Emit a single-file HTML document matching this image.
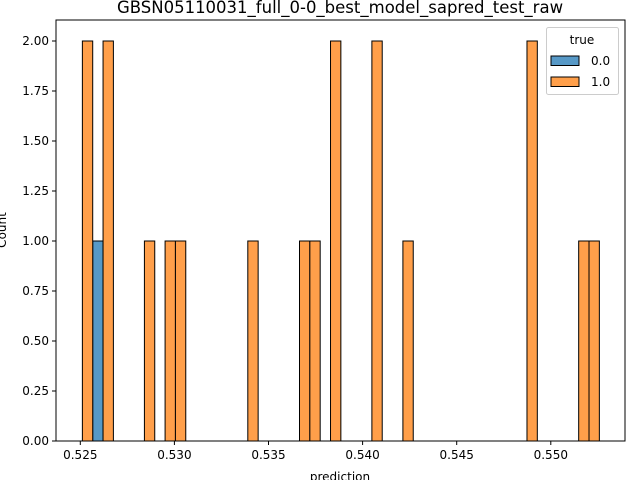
<!DOCTYPE html>
<html><head><meta charset="utf-8"><style>
body{margin:0;background:#fff;}
text{font-family:"DejaVu Sans","Liberation Sans",sans-serif;}
</style></head><body>
<svg id="chart" width="640" height="480" xmlns="http://www.w3.org/2000/svg">
<text x="340" y="13" font-size="16.5" text-anchor="middle">GBSN05110031_full_0-0_best_model_sapred_test_raw</text>
<g id="bars"></g>
<g id="axes"></g>
<text x="340" y="481" font-size="12" text-anchor="middle">prediction</text>
<text transform="translate(6,230) rotate(-90)" font-size="12" text-anchor="middle">Count</text>
<g>
<rect x="546.5" y="27.5" width="72" height="67" rx="2" fill="#fff" fill-opacity="0.8" stroke="#ccc"/>
<text x="582" y="44" font-size="12" text-anchor="middle">true</text>
<rect x="551" y="56" width="28" height="9.5" fill="#5799c7" stroke="#000" stroke-width="1"/>
<text x="591" y="65" font-size="12">0.0</text>
<rect x="551" y="77" width="28" height="9.5" fill="#ff9f4a" stroke="#000" stroke-width="1"/>
<text x="591" y="86" font-size="12">1.0</text>
</g>
</svg>
<script>
const binStart = 0.52511;
const binWidth = 0.0005494;
const orangeBins = [0,2,6,8,9,16,21,22,24,28,31,43,48,49];
const orangeCounts = [2,2,1,1,1,1,1,1,2,2,1,2,1,1];
const blueBins = [1];
const blueCounts = [1];
const xTicks = [0.525,0.530,0.535,0.540,0.545,0.550];
const xTickLabels = ["0.525","0.530","0.535","0.540","0.545","0.550"];
const yTicks = [0,0.25,0.5,0.75,1,1.25,1.5,1.75,2];
const yTickLabels = ["0.00","0.25","0.50","0.75","1.00","1.25","1.50","1.75","2.00"];

const L=56,R=625,T=20,B=441;
function xs(v){return 80.3+(v-0.525)*18820;}
function ys(v){return 441-v*200;}
const NS="http://www.w3.org/2000/svg";
const bars=document.getElementById('bars');
function drawBars(bins,counts,color,name){
  bins.forEach((b,i)=>{
    const x0=xs(binStart+b*binWidth), x1=xs(binStart+(b+1)*binWidth);
    const r=document.createElementNS(NS,'rect');
    r.setAttribute('x',x0);r.setAttribute('width',x1-x0);
    r.setAttribute('y',ys(counts[i]));r.setAttribute('height',ys(0)-ys(counts[i]));
    r.setAttribute('fill',color);r.setAttribute('stroke','#000');r.setAttribute('stroke-width','1');
    
    
    bars.appendChild(r);
  });
}
drawBars(blueBins,blueCounts,'#5799c7','bar-true-0');
drawBars(orangeBins,orangeCounts,'#ff9f4a','bar-true-1');
const ax=document.getElementById('axes');
let h='<rect x="'+L+'" y="'+T+'" width="'+(R-L)+'" height="'+(B-T)+'" fill="none" stroke="#000" stroke-width="1"/>';
xTicks.forEach((v,i)=>{const x=xs(v);h+='<line x1="'+x+'" x2="'+x+'" y1="'+B+'" y2="'+(B+4)+'" stroke="#000"/><text x="'+x+'" y="'+(B+18)+'" font-size="12" text-anchor="middle">'+xTickLabels[i]+'</text>';});
yTicks.forEach((v,i)=>{const y=ys(v);h+='<line x1="'+(L-4)+'" x2="'+L+'" y1="'+y+'" y2="'+y+'" stroke="#000"/><text x="'+(L-7)+'" y="'+(y+4)+'" font-size="12" text-anchor="end">'+yTickLabels[i]+'</text>';});
ax.innerHTML=h;
</script>
</body></html>
